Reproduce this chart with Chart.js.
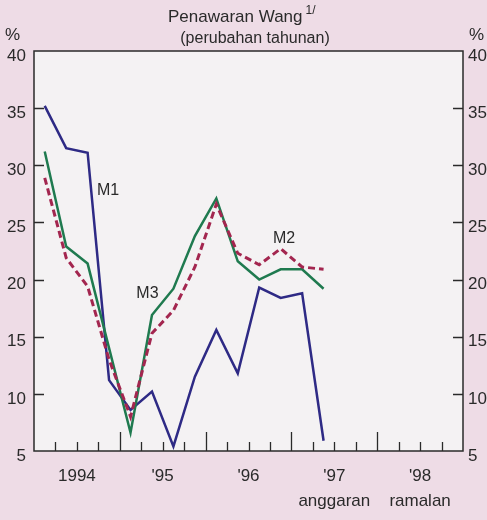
<!DOCTYPE html>
<html>
<head>
<meta charset="utf-8">
<script src="https://cdn.jsdelivr.net/npm/chart.js@4"></script>
<style>
    html, body { margin: 0; padding: 0; background: #eedce6; }
    #wrap { width: 487px; height: 520px; }
</style>
</head>
<body>
<div id="wrap"><canvas id="chart" width="487" height="520"></canvas></div>
<script>
// quarterly data, 1994 Q1 - 1997 Q2
const quarters = ['94Q1', '94Q2', '94Q3', '94Q4', '95Q1', '95Q2', '95Q3', '95Q4',
                  '96Q1', '96Q2', '96Q3', '96Q4', '97Q1', '97Q2'];
const m1 = [35.2, 31.5, 31.1, 11.2, 8.6, 10.2, 5.4, 11.5, 15.6, 11.8, 19.3, 18.4, 18.8, 5.9];
const m2 = [28.9, 21.9, 19.4, 13.0, 8.0, 15.3, 17.3, 21.1, 26.6, 22.3, 21.3, 22.7, 21.1, 20.9];
const m3 = [31.2, 22.9, 21.4, 14.0, 6.6, 16.9, 19.2, 23.8, 27.1, 21.6, 20.0, 20.9, 20.9, 19.2];

// x axis runs over 20 quarters (1994-1998), year labels sit mid-year
const yearTicks = [2, 6, 10, 14, 18];
const yearLabels = ['1994', "'95", "'96", "'97", "'98"];
const yearNotes = ['', '', '', 'anggaran', 'ramalan'];
const yTicks = [5, 10, 15, 20, 25, 30, 35, 40];

// series tags placed in data units
const tagNames = ['M1', 'M2', 'M3'];
const tagX = [3.45, 11.66, 5.29];
const tagY = [27.8, 23.55, 18.8];

const FONT = '"Liberation Sans", Arial, Helvetica, sans-serif';
const INK = '#2a2a2a';

const toPoints = arr => arr.map((v, i) => ({ x: i + 0.5, y: v }));

const paper = {
    id: 'paper',
    beforeDraw(chart) {
        const { ctx, chartArea: a } = chart;
        ctx.save();
        ctx.fillStyle = '#eedce6';
        ctx.fillRect(0, 0, chart.width, chart.height);
        ctx.fillStyle = '#f4f2f3';
        ctx.fillRect(a.left, a.top, a.right - a.left, a.bottom - a.top);
        ctx.restore();
    },
    afterDraw(chart) {
        const { ctx, chartArea: a } = chart;
        const xs = chart.scales.x, ys = chart.scales.y;
        ctx.save();
        ctx.strokeStyle = INK;
        ctx.lineWidth = 1.5;
        ctx.strokeRect(a.left, a.top, a.right - a.left, a.bottom - a.top);

        // tick marks inside the frame
        ctx.lineWidth = 1.3;
        ctx.beginPath();
        for (let q = 1; q < 20; q++) {
            const px = Math.round(xs.getPixelForValue(q)) + 0.5;
            const len = q % 4 === 0 ? 19 : 9;
            ctx.moveTo(px, a.bottom);
            ctx.lineTo(px, a.bottom - len);
        }
        yTicks.slice(1, -1).forEach(v => {
            const py = Math.round(ys.getPixelForValue(v)) + 0.5;
            ctx.moveTo(a.left, py);
            ctx.lineTo(a.left + 10, py);
            ctx.moveTo(a.right, py);
            ctx.lineTo(a.right - 10, py);
        });
        ctx.stroke();

        // title
        ctx.fillStyle = INK;
        ctx.textBaseline = 'alphabetic';
        ctx.textAlign = 'left';
        ctx.font = '17px ' + FONT;
        const t1 = 'Penawaran Wang';
        ctx.fillText(t1, 168, 22);
        const w1 = ctx.measureText(t1).width;
        ctx.font = '12px ' + FONT;
        ctx.fillText('1/', 168 + w1 + 3, 14);
        ctx.font = '16px ' + FONT;
        ctx.textAlign = 'center';
        ctx.fillText('(perubahan tahunan)', 255, 43);

        // unit marks
        ctx.font = '17px ' + FONT;
        ctx.textAlign = 'left';
        ctx.fillText('%', 5, 40);
        ctx.fillText('%', 469, 40);

        // series tags
        ctx.font = '16px ' + FONT;
        ctx.textAlign = 'center';
        ctx.textBaseline = 'middle';
        tagNames.forEach((t, i) => {
            ctx.fillText(t, xs.getPixelForValue(tagX[i]), ys.getPixelForValue(tagY[i]));
        });
        ctx.restore();
    }
};

const yAxis = (position, pad, width) => ({
    type: 'linear',
    position: position,
    min: 5,
    max: 40,
    afterBuildTicks: s => { s.ticks = yTicks.map(v => ({ value: v })); },
    afterFit: s => { s.width = width; },
    grid: { display: false, drawTicks: false },
    border: { display: false },
    ticks: {
        color: INK,
        font: { family: FONT, size: 17 },
        padding: pad,
        labelOffset: 5
    }
});

new Chart(document.getElementById('chart'), {
    type: 'line',
    data: {
        datasets: [
            {
                label: 'M2',
                data: toPoints(m2),
                borderColor: '#a3264f',
                borderWidth: 3,
                borderDash: [7, 4]
            },
            {
                label: 'M3',
                data: toPoints(m3),
                borderColor: '#1f7a4f',
                borderWidth: 2.5
            },
            {
                label: 'M1',
                data: toPoints(m1),
                borderColor: '#2e2a85',
                borderWidth: 2.5
            }
        ]
    },
    options: {
        responsive: false,
        animation: false,
        devicePixelRatio: 1,
        layout: { padding: { top: 51, left: 0, right: 0, bottom: 0 } },
        elements: {
            point: { radius: 0 },
            line: { tension: 0, fill: false }
        },
        plugins: {
            legend: { display: false },
            tooltip: { enabled: false },
            title: { display: false }
        },
        scales: {
            x: {
                type: 'linear',
                min: 0,
                max: 20,
                afterBuildTicks: s => { s.ticks = yearTicks.map(v => ({ value: v })); },
                afterFit: s => { s.height = 69; },
                grid: { display: false, drawTicks: false },
                border: { display: false },
                ticks: {
                    color: INK,
                    autoSkip: false,
                    maxRotation: 0,
                    minRotation: 0,
                    padding: 13,
                    font: { family: FONT, size: 17, lineHeight: 1.47 },
                    callback: v => {
                        const i = yearTicks.indexOf(v);
                        if (i < 0) return '';
                        return yearNotes[i] ? [yearLabels[i], yearNotes[i]] : yearLabels[i];
                    }
                }
            },
            y: yAxis('left', 8, 34),
            y2: yAxis('right', 5, 24)
        }
    },
    plugins: [paper]
});
</script>
</body>
</html>
